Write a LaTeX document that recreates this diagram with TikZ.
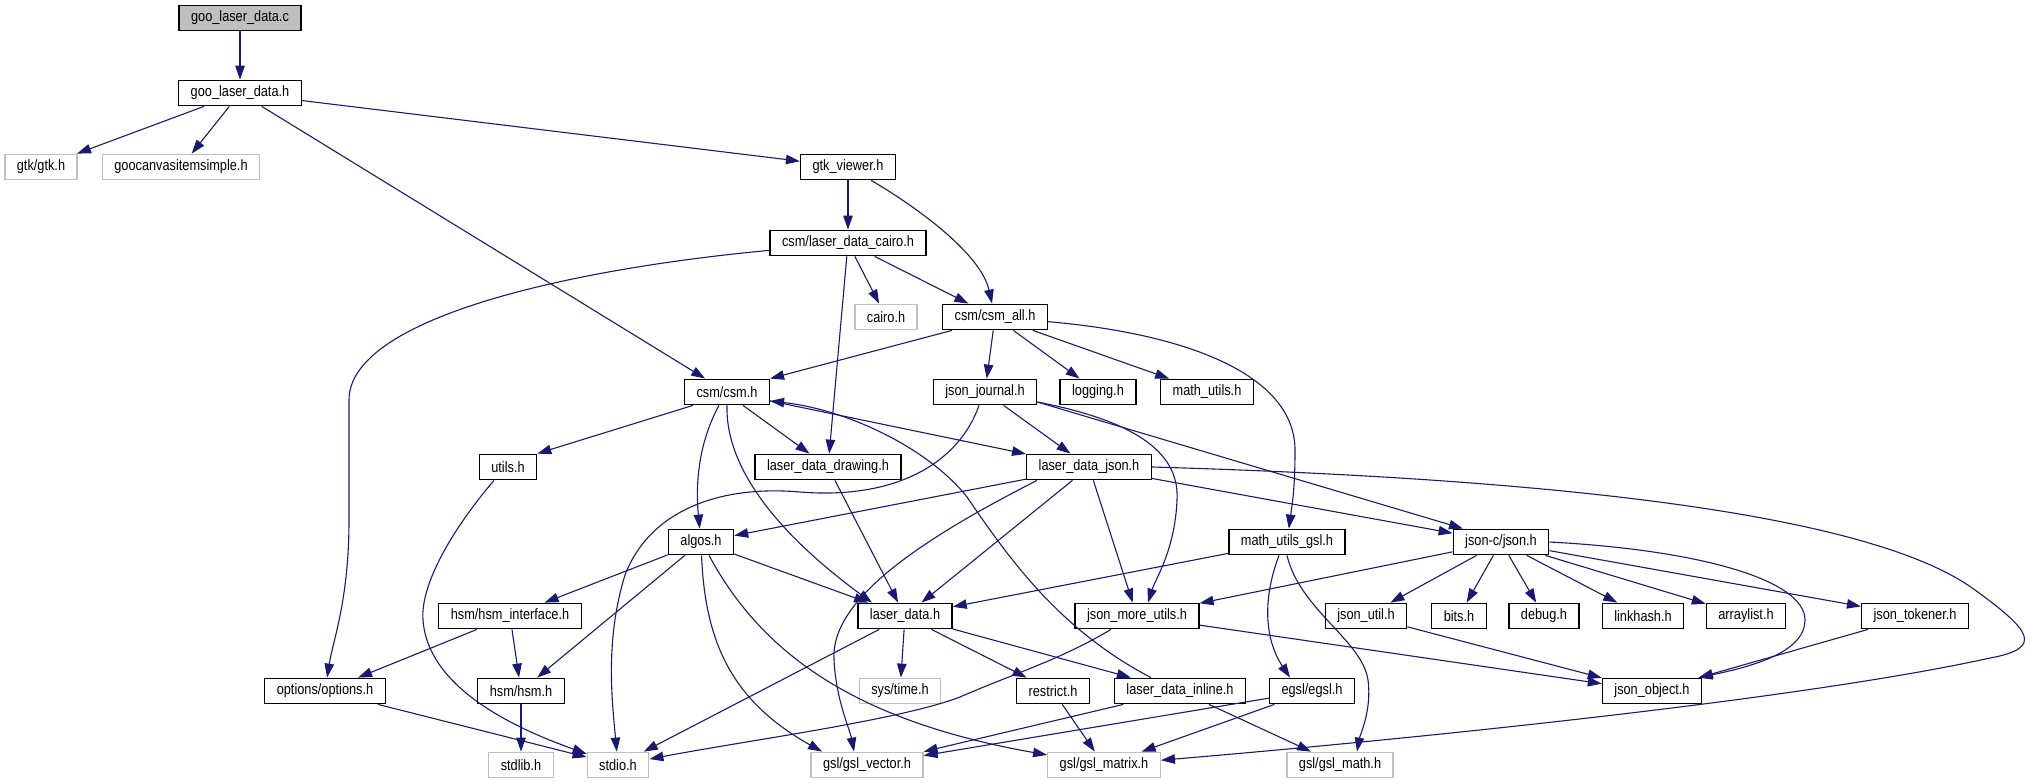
\documentclass[tikz,border=0pt]{standalone}
\usepackage{fontspec}
\newfontfamily\graphfont{Liberation Sans}[FakeStretch=0.85]
\usepackage{tikz}
\usetikzlibrary{arrows.meta}
\definecolor{edgeblue}{HTML}{191970}
\definecolor{sysgray}{HTML}{BFBFBF}

\begin{document}
\begin{tikzpicture}[x=1pt,y=-1pt,>={Triangle[length=14pt,width=9.5pt]},
	file/.style={draw=black,fill=white,line width=1.3pt,inner xsep=12pt,inner ysep=0pt,minimum height=25.5pt,font=\graphfont\fontsize{15}{18}\selectfont},
	sysfile/.style={file,draw=sysgray},
	mainfile/.style={file,fill=sysgray},
	dep/.style={->,draw=edgeblue,line width=1.1pt}]

		\useasboundingbox (0,0) rectangle (2031,784);

		\node[mainfile] (gldc) at (240,18) {goo\_laser\_data.c};
		\node[file] (gldh) at (240,93) {goo\_laser\_data.h};
		\node[sysfile] (gtk) at (41,167) {gtk/gtk.h};
		\node[sysfile] (goocanvas) at (181,167) {goocanvasitemsimple.h};
		\node[file] (gtkviewer) at (848,167) {gtk\_viewer.h};
		\node[file] (ldcairo) at (848,243) {csm/laser\_data\_cairo.h};
		\node[sysfile] (cairo) at (886,317) {cairo.h};
		\node[file] (csmall) at (995,317) {csm/csm\_all.h};
		\node[file] (csm) at (727,392) {csm/csm.h};
		\node[file] (journal) at (985,392) {json\_journal.h};
		\node[file] (logging) at (1098,392) {logging.h};
		\node[file] (mathutils) at (1207,392) {math\_utils.h};
		\node[file] (utils) at (508,467) {utils.h};
		\node[file] (lddrawing) at (828,467) {laser\_data\_drawing.h};
		\node[file] (ldjson) at (1089,467) {laser\_data\_json.h};
		\node[file] (algos) at (701,542) {algos.h};
		\node[file] (mugsl) at (1287,542) {math\_utils\_gsl.h};
		\node[file] (jsonc) at (1501,542) {json-c/json.h};
		\node[file] (hsmif) at (510,616) {hsm/hsm\_interface.h};
		\node[file] (ld) at (905,616) {laser\_data.h};
		\node[file] (jmu) at (1137,616) {json\_more\_utils.h};
		\node[file] (jutil) at (1366,616) {json\_util.h};
		\node[file] (bits) at (1459,616) {bits.h};
		\node[file] (debug) at (1544,616) {debug.h};
		\node[file] (linkhash) at (1643,616) {linkhash.h};
		\node[file] (arraylist) at (1746,616) {arraylist.h};
		\node[file] (tokener) at (1915,616) {json\_tokener.h};
		\node[file] (options) at (325,691) {options/options.h};
		\node[file] (hsm) at (521,691) {hsm/hsm.h};
		\node[sysfile] (systime) at (900,691) {sys/time.h};
		\node[file] (restrict) at (1053,691) {restrict.h};
		\node[file] (ldinline) at (1180,691) {laser\_data\_inline.h};
		\node[file] (egsl) at (1312,691) {egsl/egsl.h};
		\node[file] (jobject) at (1652,691) {json\_object.h};
		\node[sysfile] (stdlib) at (521,765) {stdlib.h};
		\node[sysfile] (stdio) at (618,765) {stdio.h};
		\node[sysfile] (gslvec) at (867,765) {gsl/gsl\_vector.h};
		\node[sysfile] (gslmat) at (1104,765) {gsl/gsl\_matrix.h};
		\node[sysfile] (gslmath) at (1340,765) {gsl/gsl\_math.h};

		% top part
		\draw[dep] (gldc) -- (gldh);
		\draw[dep] (gldh) -- (gtk);
		\draw[dep] (gldh) -- (goocanvas);
		\draw[dep] (gldh) -- (csm);
		\draw[dep] (gldh) -- (gtkviewer);
		\draw[dep] (gtkviewer) -- (ldcairo);
		\draw[dep] (gtkviewer) .. controls (905,200) and (980,250) .. (csmall);
		\draw[dep] (ldcairo) -- (cairo);
		\draw[dep] (ldcairo) -- (csmall);
		\draw[dep] (ldcairo) -- (lddrawing);
		\draw[dep] (ldcairo) .. controls (560,270) and (349,320) .. (349,400) -- (349,520) .. controls (349,600) and (333,640) .. (options);
		\draw[dep] ([xshift=10pt]csmall.south west) -- (csm.north east);
		\draw[dep] (csmall) -- (journal);
		\draw[dep] (csmall) -- (logging);
		\draw[dep] (csmall) -- (mathutils);
		\draw[dep] (csmall) .. controls (1200,335) and (1295,380) .. (1295,450) .. controls (1295,490) and (1292,505) .. (mugsl);

		% csm.h and json_journal.h
		\draw[dep] ([xshift=9pt]csm.south west) -- (utils.north east);
		\draw[dep] ([xshift=-8pt]csm.south) .. controls (700,440) and (695,480) .. (algos);
		\draw[dep] (csm.south) .. controls (725,480) and (800,550) .. ([xshift=-33pt]ld.north);
		\draw[dep] ([xshift=16pt]csm.south) -- (lddrawing);
		\draw[dep] (csm) -- (ldjson);
		\draw[dep] ([xshift=-29pt]ldinline.north) .. controls (1060,630) and (1010,560) .. (967,497) .. controls (930,450) and (850,410) .. ([yshift=-9pt]csm.east);
		\draw[dep] (journal) -- (ldjson);
		\draw[dep] ([yshift=-10pt]journal.east) .. controls (1130,420) and (1180,450) .. (1177,500) .. controls (1175,550) and (1155,580) .. ([xshift=11pt]jmu.north);
		\draw[dep] ([yshift=-10pt]journal.east) -- ([xshift=-38pt]jsonc.north);
		\draw[dep] ([xshift=-6pt]journal.south) .. controls (960,460) and (900,500) .. (800,492) .. controls (720,485) and (650,510) .. (625,575) .. controls (605,640) and (612,700) .. (stdio);
		\draw[dep] ([xshift=-14pt]utils.south) .. controls (460,520) and (420,580) .. (423,620) .. controls (428,690) and (520,730) .. (stdio);
		\draw[dep] (lddrawing) -- (ld);

		% laser_data_json.h
		\draw[dep] (ldjson) -- (algos);
		\draw[dep] (ldjson) -- (ld);
		\draw[dep] ([xshift=-52pt]ldjson.south) .. controls (920,540) and (830,600) .. (834,660) .. controls (836,700) and (850,730) .. ([xshift=-13pt]gslvec.north);
		\draw[dep] (ldjson) -- (jmu);
		\draw[dep] (ldjson) -- (jsonc);
		\draw[dep] (ldjson.east) .. controls (1600,480) and (1880,520) .. (1975,590) .. controls (2030,630) and (2045,648) .. (1990,658) .. controls (1800,700) and (1400,740) .. (gslmat);

		% algos.h and math_utils_gsl.h
		\draw[dep] (algos) -- (hsmif);
		\draw[dep] (algos) -- (hsm);
		\draw[dep] (algos) -- (ld);
		\draw[dep] (algos) .. controls (705,640) and (730,700) .. ([xshift=-45pt]gslvec.north);
		\draw[dep] ([xshift=8pt]algos.south) .. controls (760,650) and (850,720) .. (gslmat);
		\draw[dep] (mugsl) -- (ld);
		\draw[dep] ([xshift=-8pt]mugsl.south) .. controls (1262,600) and (1265,640) .. ([xshift=-22pt]egsl.north);
		\draw[dep] (mugsl.south) .. controls (1300,610) and (1362,640) .. (1368,680) .. controls (1372,710) and (1360,735) .. ([xshift=17pt]gslmath.north);

		% json-c/json.h
		\draw[dep] (jsonc) -- (jmu);
		\draw[dep] (jsonc) -- (jutil);
		\draw[dep] (jsonc) -- (bits);
		\draw[dep] (jsonc) -- (debug);
		\draw[dep] (jsonc) -- (linkhash);
		\draw[dep] (jsonc) -- (arraylist);
		\draw[dep] (jsonc) -- (tokener);
		\draw[dep] (jsonc.east) .. controls (1700,550) and (1805,580) .. (1805,620) .. controls (1805,650) and (1760,665) .. ([xshift=-4pt]jobject.north east);

		% lower rows
		\draw[dep] (hsmif) -- (options);
		\draw[dep] (hsmif) -- (hsm);
		\draw[dep] (ld) -- (stdio);
		\draw[dep] (ld) -- (systime);
		\draw[dep] (ld) -- (restrict);
		\draw[dep] (ld) -- (ldinline);
		\draw[dep] ([xshift=-26pt]jmu.south) .. controls (1060,660) and (1010,675) .. (960,697) .. controls (900,720) and (750,740) .. (stdio);
		\draw[dep] (jmu) -- (jobject);
		\draw[dep] (jutil) -- (jobject);
		\draw[dep] (tokener) -- (jobject);
		\draw[dep] (options) -- (stdio);
		\draw[dep] (hsm) -- (stdlib);
		\draw[dep] (restrict) -- (gslmat);
		\draw[dep] (ldinline) -- (gslvec);
		\draw[dep] (ldinline) -- (gslmath);
		\draw[dep] (egsl) -- (gslvec);
		\draw[dep] (egsl) -- (gslmat);

\end{tikzpicture}
\end{document}
